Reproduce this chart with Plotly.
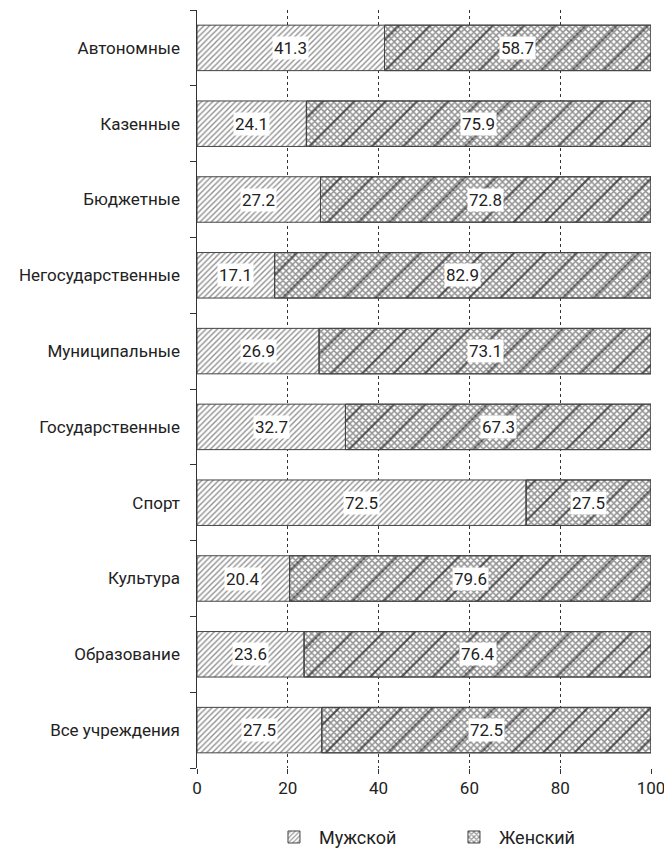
import plotly.graph_objects as go

categories = ['Все учреждения', 'Образование', 'Культура', 'Спорт', 'Государственные',
              'Муниципальные', 'Негосударственные', 'Бюджетные', 'Казенные', 'Автономные']
male = [27.5, 23.6, 20.4, 72.5, 32.7, 26.9, 17.1, 27.2, 24.1, 41.3]
female = [72.5, 76.4, 79.6, 27.5, 67.3, 73.1, 82.9, 72.8, 75.9, 58.7]

LINE = dict(color='#444', width=1)
NARROW = 'Roboto, sans-serif'
NUM_FONT = dict(family=NARROW, size=17, color='#222')

fig = go.Figure()
fig.add_trace(go.Bar(
    y=categories, x=male, orientation='h', name='Мужской', width=0.6,
    marker=dict(color='white', line=LINE,
                pattern=dict(shape='/', size=4, solidity=0.35, fgcolor='#222')),
))
fig.add_trace(go.Bar(
    y=categories, x=female, base=male, orientation='h', name='Женский', width=0.6,
    marker=dict(color='white', line=LINE,
                pattern=dict(shape='x', size=4.5, solidity=0.55, fgcolor='#222')),
))
# толстые диагонали поверх сетки
fig.add_trace(go.Bar(
    y=categories, x=female, base=male, orientation='h', showlegend=False, width=0.6,
    hoverinfo='skip',
    marker=dict(color='rgba(0,0,0,0)', line=LINE,
                pattern=dict(shape='/', size=22, solidity=0.1, fgcolor='#000')),
))

for cat, m, f in zip(categories, male, female):
    fig.add_annotation(x=m / 2, y=cat, text=f'{m}', showarrow=False, font=NUM_FONT,
                       bgcolor='white', borderpad=1)
    fig.add_annotation(x=m + f / 2, y=cat, text=f'{f}', showarrow=False, font=NUM_FONT,
                       bgcolor='white', borderpad=1)

fig.update_layout(
    width=664, height=854, barmode='overlay',
    paper_bgcolor='white', plot_bgcolor='white',
    margin=dict(l=197, r=13, t=10, b=86, autoexpand=False),
    font=dict(family='Roboto, sans-serif', size=17, color='#222'),
    legend=dict(orientation='h', x=0.555, xanchor='center', y=-0.067, yanchor='top',
                font=dict(size=18), itemwidth=40, entrywidth=125, traceorder='normal'),
    bargap=0.4,
)
fig.update_xaxes(
    range=[0, 100], tickvals=[0, 20, 40, 60, 80, 100], showgrid=True,
    gridcolor='#333', griddash='dot', gridwidth=1, zeroline=False,
    ticks='outside', ticklen=5, tickcolor='#333', showline=False, automargin=False,
    ticklabeloverflow='allow', tickfont=dict(family=NARROW, size=17),
)
fig.update_yaxes(
    showline=True, linecolor='#333', linewidth=1, ticks='outside', ticklen=6,
    tickcolor='#333', tickson='boundaries', showgrid=False, ticksuffix='   ',
    range=[-0.5, 9.5], automargin=False,
)

fig.write_html('out.html', config={'displayModeBar': False},
               post_script="document.body.style.margin='0';")
